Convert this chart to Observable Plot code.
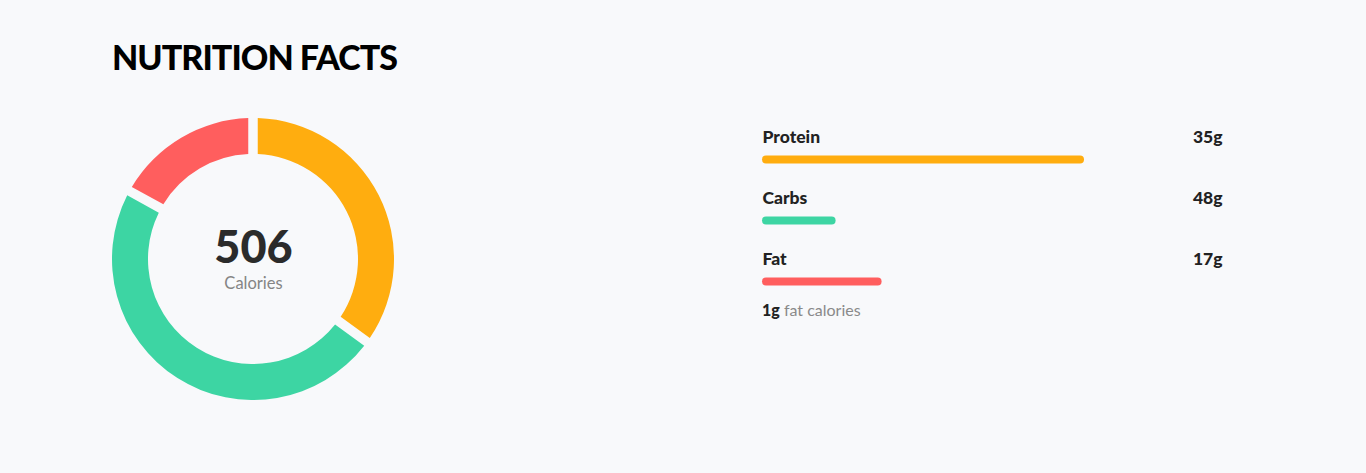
<!DOCTYPE html>
<html>
<head>
<meta charset="utf-8">
<script src="https://cdn.jsdelivr.net/npm/d3@7"></script>
<script src="https://cdn.jsdelivr.net/npm/@observablehq/plot@0.6"></script>
<style>
  html, body { margin: 0; padding: 0; background: #f8f9fb; }
  body { width: 1366px; height: 473px; position: relative; overflow: hidden; font-family: Lato, "Open Sans", sans-serif; }
  #title { position: absolute; left: 112px; top: 40px; font-size: 34px; line-height: 34px; font-weight: 900; color: #000; letter-spacing: -0.95px; }
  #donut { position: absolute; left: 103px; top: 109px; }
  #bars { position: absolute; left: 742px; top: 115px; }
  #fatcal { position: absolute; left: 762px; top: 302px; font-size: 16px; line-height: 15px; color: #8a8a8a; }
  #fatcal b { color: #222; font-weight: 900; }
</style>
</head>
<body>
<div id="title">NUTRITION FACTS</div>
<div id="donut"></div>
<div id="bars"></div>
<div id="fatcal"><b>1g</b> fat calories</div>
<script>
// ---- data ----
const nutrients = ["Protein", "Carbs", "Fat"];
const grams = [35, 48, 17];
const dailyPercent = [70, 16, 26];   // bar length, % of daily value
const calories = 506;
const caloriesLabel = "Calories";
const fatCalories = 1;

// ---- styles ----
const colors = ["#ffad0f", "#3dd5a3", "#ff5e5e"];

const rows = nutrients.map((name, i) => ({name, grams: grams[i], pct: dailyPercent[i], color: colors[i]}));

// ---- donut ----
const total = d3.sum(grams);
let cum = 0;
const slices = rows.map(r => {
  const s = {...r, start: cum / total * 2 * Math.PI};
  cum += r.grams;
  s.end = cum / total * 2 * Math.PI;
  return s;
});

function arcMark(index, scales) {
  const cx = scales.x(0), cy = scales.y(0);
  const k = Math.abs(scales.x(1) - scales.x(0));
  const arc = d3.arc()
    .innerRadius(105 * k)
    .outerRadius(141 * k)
    .padRadius(123 * k)
    .padAngle(9.5 / (123 * k));
  const g = d3.create("svg:g").attr("transform", `translate(${cx},${cy})`);
  g.selectAll("path")
    .data(slices)
    .join("path")
    .attr("d", d => arc({startAngle: d.start, endAngle: d.end}))
    .attr("fill", d => d.color);
  return g.node();
}

const donut = Plot.plot({
  width: 300,
  height: 300,
  margin: 0,
  x: {domain: [-150, 150], axis: null},
  y: {domain: [-150, 150], axis: null},
  style: {background: "transparent", overflow: "visible"},
  marks: [
    arcMark,
    Plot.text([calories], {x: () => 0, y: () => 0, text: d => String(d), dy: -11, fontSize: 45, fontWeight: 900, fill: "#2b2b2b", fontFamily: "Lato"}),
    Plot.text([caloriesLabel], {x: () => 0, y: () => 0, text: d => d, dy: 24, fontSize: 16.5, fill: "#858585", fontFamily: "Lato"})
  ]
});
document.getElementById("donut").append(donut);

// ---- bars ----
const bars = Plot.plot({
  width: 500,
  height: 200,
  marginLeft: 20,
  marginRight: 20,
  marginTop: 0,
  marginBottom: 0,
  x: {domain: [0, 100], axis: null},
  y: {type: "band", domain: nutrients, range: [13.5, 196.5], padding: 0, axis: null},
  style: {background: "transparent", overflow: "visible"},
  marks: [
    Plot.barX(rows, {x1: () => 0, x2: "pct", y: "name", fill: "color", insetTop: 26.5, insetBottom: 26.5, rx: 4}),
    Plot.text(rows, {x: () => 0, y: "name", text: "name", textAnchor: "start", dy: -23, fontSize: 17.5, fontWeight: 900, fill: "#222", fontFamily: "Lato"}),
    Plot.text(rows, {x: () => 100, y: "name", text: d => d.grams + "g", textAnchor: "end", dy: -23, fontSize: 17.5, fontWeight: 900, fill: "#222", fontFamily: "Lato"})
  ]
});
document.getElementById("bars").append(bars);
document.querySelector("#fatcal b").textContent = fatCalories + "g";
</script>
</body>
</html>
